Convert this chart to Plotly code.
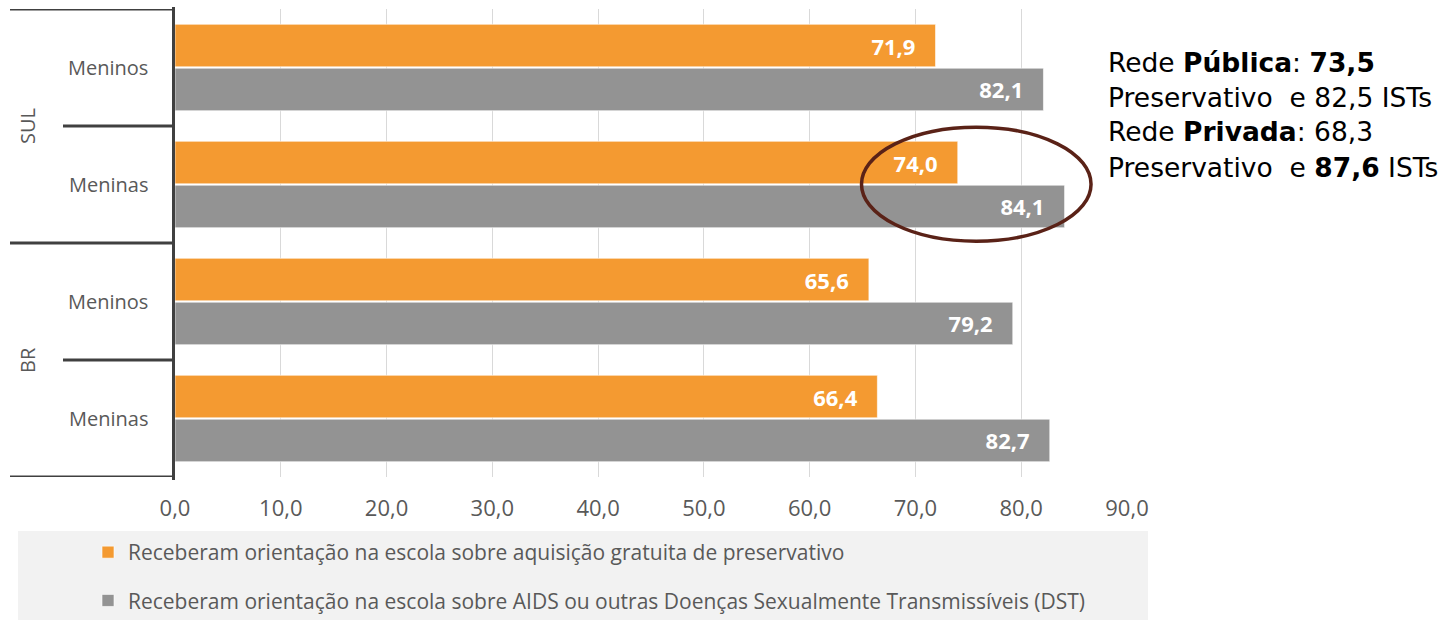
import plotly.graph_objects as go

# ---- data -------------------------------------------------------------
regions = ["SUL", "SUL", "BR", "BR"]
sexes = ["Meninos", "Meninas", "Meninos", "Meninas"]
preservativo = [71.9, 74.0, 65.6, 66.4]
dst = [82.1, 84.1, 79.2, 82.7]
x_ticks = [0, 10, 20, 30, 40, 50, 60, 70, 80, 90]
series_names = [
    "Receberam orientação na escola sobre aquisição gratuita de preservativo",
    "Receberam orientação na escola sobre AIDS ou outras Doenças Sexualmente Transmissíveis (DST)",
]
note_lines = [
    "Rede <b>Pública</b>: <b>73,5</b>",
    "Preservativo  e 82,5 ISTs",
    "Rede <b>Privada</b>: 68,3",
    "Preservativo  e <b>87,6</b> ISTs",
]
highlight = ("SUL", "Meninas")

# ---- styling ------------------------------------------------------------
ORANGE = "#F49A31"
GREY = "#939393"
AXIS_DARK = "#404040"
TEXT = "#595959"
FONT = "Open Sans"

W, H = 1443, 620
ML, MR, MT, MB = 175, 316, 9, 143
PW, PH = W - ML - MR, H - MT - MB


def px_x(px):
    return (px - ML) / PW


def px_y(py):
    return (H - MB - py) / PH


idx = list(range(len(sexes)))

fig = go.Figure()
for vals, color, name, grp in [
    (preservativo, ORANGE, series_names[0], "a"),
    (dst, GREY, series_names[1], "b"),
]:
    fig.add_trace(go.Bar(
        x=vals, y=idx, orientation="h", name=name, legendgroup=grp,
        marker=dict(color=color, line=dict(color="rgba(255,255,255,0.6)", width=1)),
        texttemplate="%{x:.1f}&nbsp;&nbsp;&nbsp;",
        textposition="inside", insidetextanchor="end",
        textfont=dict(family=FONT, size=22, color="white", weight="bold"),
        hoverinfo="skip",
    ))

shapes = []
# legend background panel
shapes.append(dict(type="rect", xref="paper", yref="paper",
                   x0=px_x(18), x1=px_x(1148), y0=px_y(621), y1=px_y(531),
                   fillcolor="#F2F2F2", line=dict(width=0), layer="below"))
# category axis: vertical spine
shapes.append(dict(type="line", xref="paper", yref="paper",
                   x0=px_x(173.5), x1=px_x(173.5), y0=px_y(480), y1=px_y(7),
                   line=dict(color=AXIS_DARK, width=3)))
# category axis: dividers (long between regions, short between sexes)
n = len(sexes)
for k in range(n + 1):
    outer = k == 0 or k == n or regions[k - 1] != regions[k]
    shapes.append(dict(type="line", xref="paper", yref="y",
                       x0=px_x(10 if outer else 63), x1=px_x(175),
                       y0=k - 0.5, y1=k - 0.5,
                       line=dict(color=AXIS_DARK, width=3)))
# highlight ellipse
hi = [i for i in idx if (regions[i], sexes[i]) == highlight][0]
shapes.append(dict(type="circle", xref="x", yref="y",
                   x0=64.9, x1=86.6, y0=hi - 0.49, y1=hi + 0.485,
                   line=dict(color="#5A2217", width=3.5)))

annotations = []
for i in idx:
    annotations.append(dict(x=px_x(108), xref="paper", y=i, yref="y",
                            text=sexes[i], showarrow=False,
                            xanchor="center", yanchor="middle",
                            font=dict(family=FONT, size=20, color=TEXT)))
seen = []
for r in regions:
    if r in seen:
        continue
    seen.append(r)
    members = [i for i in idx if regions[i] == r]
    annotations.append(dict(x=px_x(27), xref="paper",
                            y=sum(members) / len(members), yref="y",
                            text=r, showarrow=False, textangle=-90,
                            xanchor="center", yanchor="middle",
                            font=dict(family=FONT, size=20, color=TEXT)))
for j, line in enumerate(note_lines):
    annotations.append(dict(x=px_x(1106), xref="paper", y=px_y(62 + 35 * j), yref="paper",
                            text=line, showarrow=False, xanchor="left", yanchor="middle",
                            font=dict(family="DejaVu Sans", size=26.5, color="black")))

fig.update_layout(
    width=W, height=H,
    margin=dict(l=ML, r=MR, t=MT, b=MB, autoexpand=False),
    paper_bgcolor="white", plot_bgcolor="white",
    separators=",.",
    barmode="group", bargap=0.25, bargroupgap=0.03,
    font=dict(family=FONT, color=TEXT),
    xaxis=dict(range=[0, 90], tickvals=x_ticks, tickformat=".1f",
               showgrid=True, gridcolor="#D9D9D9", gridwidth=1,
               zeroline=False, showline=False, ticks="",
               ticklabelstandoff=16,
               tickfont=dict(family=FONT, size=22, color=TEXT)),
    yaxis=dict(range=[n - 0.5, -0.5], showticklabels=False, showgrid=False,
               zeroline=False, showline=False),
    legend=dict(x=px_x(88), y=px_y(532), xanchor="left", yanchor="top",
                orientation="v", tracegroupgap=18, bgcolor="rgba(0,0,0,0)",
                font=dict(family=FONT, size=21, color=TEXT)),
    shapes=shapes,
    annotations=annotations,
)

fig.write_html("out.html")
